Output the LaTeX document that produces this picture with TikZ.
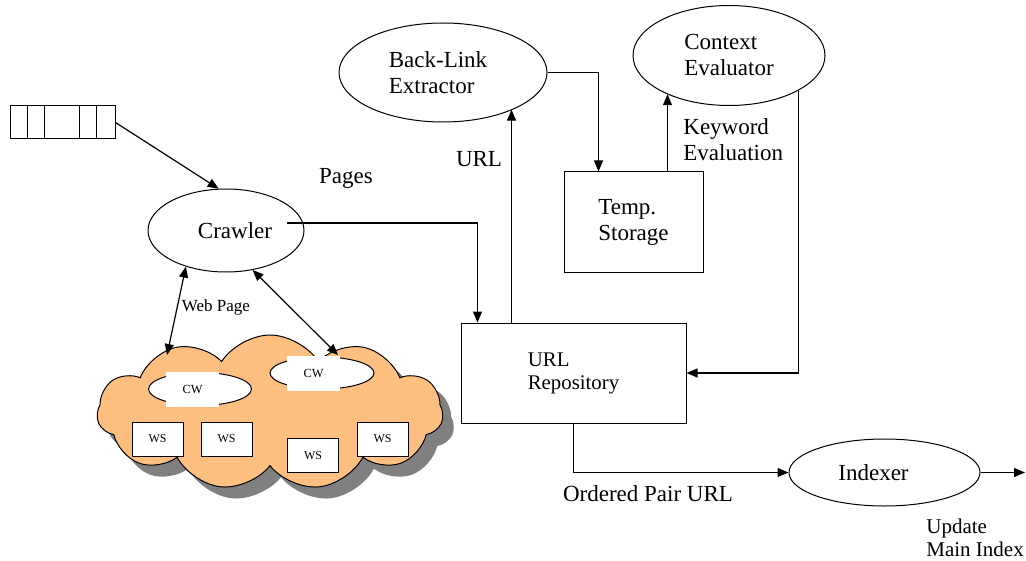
\documentclass[tikz,border=0pt]{standalone}
\usepackage{fontspec}
\setmainfont{Liberation Serif}
\usetikzlibrary{shapes.geometric,shapes.symbols,calc,arrows.meta}
\definecolor{cloudorange}{RGB}{255,191,128}
\definecolor{shadowgray}{RGB}{128,128,128}
\begin{document}
\begin{tikzpicture}[x=0.5pt,y=-0.5pt,
  font=\fontsize{11.5}{13}\selectfont,
  conn/.style={line width=0.6pt,-{Triangle[length=5.5pt,width=4.5pt]}},
  biconn/.style={line width=0.6pt,{Triangle[length=5.5pt,width=4.5pt]}-{Triangle[length=5.5pt,width=4.5pt]}},
  oval/.style={ellipse,draw,line width=0.5pt,inner sep=0pt,align=left},
  boxn/.style={rectangle,draw,line width=0.5pt,inner sep=0pt,align=left},
  wsbox/.style={rectangle,draw,fill=white,line width=0.5pt,minimum width=25.5pt,minimum height=17pt,inner sep=0pt,font=\fontsize{6}{7}\selectfont},
  cwell/.style={ellipse,draw,fill=white,line width=0.5pt,inner sep=0pt},
  cwlab/.style={rectangle,fill=white,inner sep=0pt,minimum width=26.5pt,minimum height=17.5pt,font=\fontsize{6.2}{7}\selectfont},
  cloudsh/.style={cloud,cloud puffs=11,cloud puff arc=115,aspect=2.2,inner sep=0pt,minimum width=173pt,minimum height=77.5pt},
  lab/.style={inner sep=0pt,align=left}]
\useasboundingbox (0,0) rectangle (1026,561);

% queue
\node[boxn,minimum width=52.5pt,minimum height=16.5pt] (queue) at (62.5,122.5) {};
\foreach \d in {18,35,70,87}{
  \draw[line width=0.5pt] ($(queue.north west)+(\d,0)$) -- ($(queue.south west)+(\d,0)$);
}

% cloud
\node[cloudsh,fill=shadowgray] (cloudshadow) at (281,424) {};
\node[cloudsh,draw,line width=0.5pt,fill=cloudorange] (cloud) at (270,412.5) {};

\node[cwell,minimum width=51.5pt,minimum height=16.5pt] (cw1e) at (200,389) {};
\node[cwlab] (cw1) at (192.5,389) {CW};
\node[cwell,minimum width=52pt,minimum height=16pt] (cw2e) at (322,373) {};
\node[cwlab] (cw2) at (313.5,373) {CW};

\node[wsbox] (ws1) at (157.5,439) {WS};
\node[wsbox] (ws2) at (226.5,439) {WS};
\node[wsbox] (ws3) at (313,455.5) {WS};
\node[wsbox] (ws4) at (382.5,439) {WS};

% main nodes
\node[oval,minimum width=78pt,minimum height=41.5pt] (crawler) at (226,230.5) {\hspace*{9pt}Crawler};
\node[oval,minimum width=104pt,minimum height=49.5pt] (backlink) at (443,72.5) {Back-Link\hspace*{5pt}\\Extractor};
\node[oval,minimum width=96pt,minimum height=50pt] (context) at (729,55.5) {Context\\Evaluator};
\node[boxn,minimum width=69.5pt,minimum height=50pt] (temp) at (633.5,222) {Temp.\\Storage};
\node[boxn,minimum width=112.5pt,minimum height=50pt,font=\fontsize{10.4}{11.5}\selectfont] (repo) at (573.5,373) {URL\\Repository};
\node[oval,minimum width=95.5pt,minimum height=33.5pt] (indexer) at (884.5,472.5) {Indexer\hspace*{11pt}};

% labels
\node[lab] (pages) at (346,178) {Pages};
\node[lab] (urllab) at (479,159) {URL};
\node[lab,anchor=west] (kw) at (683,140) {Keyword\\Evaluation};
\node[lab,font=\fontsize{8.5}{10}\selectfont] (wp) at (216,307) {Web Page};
\node[lab] (opu) at (648,494) {Ordered Pair URL};
\node[lab,anchor=west,font=\fontsize{10.5}{11.5}\selectfont] (umi) at (926,537.5) {Update\\Main Index};

% coordinates
\coordinate (wa) at (167,355);
\coordinate (wb) at (338,355);
\coordinate (u1) at ($(repo.north west)+(51,0)$);
\coordinate (t1) at ($(temp.north west)+(104,0)$);
\coordinate (out) at (1025,472.5);

% connectors
\draw[conn] (queue.east) -- (crawler.100);
\draw[conn] ($(crawler.center)+(61,-7.5)$) -| ($(repo.north west)+(17,0)$);
\draw[conn] (u1) -- (u1 |- backlink.-28);
\draw[conn] (backlink.east) -| ($(temp.north west)+(35,0)$);
\draw[conn] (t1) -- (t1 |- context.212);
\draw[conn] (context.-27) |- (repo.east);
\draw[conn] (repo.south) |- (indexer.west);
\draw[conn] (indexer.east) -- (out);
\draw[biconn] (crawler.222) -- (wa);
\draw[biconn] (crawler.-56) -- (wb);
\end{tikzpicture}
\end{document}
